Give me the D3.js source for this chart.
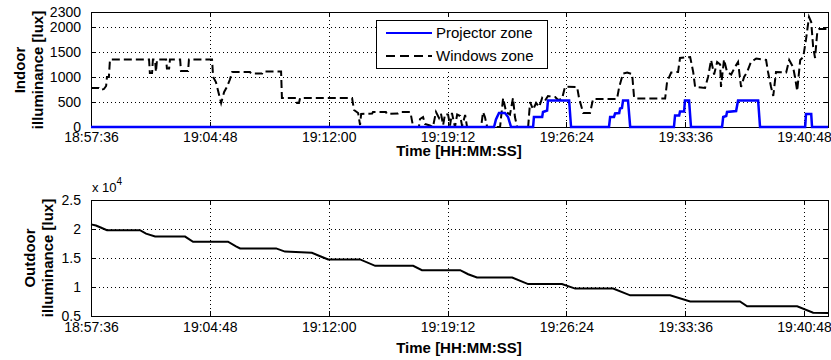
<!DOCTYPE html>
<html><head><meta charset="utf-8">
<script src="https://cdn.jsdelivr.net/npm/d3@7"></script>
<style>
body{margin:0;background:#fff;}
text{font-family:"Liberation Sans",Arial,Helvetica,sans-serif;fill:#000;}
</style></head>
<body><svg id="c" width="831" height="360"></svg>
<script>
// ---- data ----
const startTime = "18:57:36";
const endTime = "19:42:15";
const timeTicks = ["18:57:36","19:04:48","19:12:00","19:19:12","19:26:24","19:33:36","19:40:48"];
const indoorTicks = [0,500,1000,1500,2000,2300];
const outdoorTicks = [5000,10000,15000,20000,25000];
const seriesNames = ["Projector zone","Windows zone"];

// seconds elapsed since startTime
const projSec = [0,1465,1472,1483,1505,1516,1527,1607,1610,1640,1643,1658,1661,1738,1745,1883,1887,1901,1905,1920,1923,1930,1934,1952,1960,2119,2123,2138,2141,2156,2159,2174,2181,2294,2298,2309,2312,2345,2352,2425,2432,2596,2599,2618,2621,2679];
const projLux = [0,0,150,280,280,200,0,0,200,200,300,330,530,530,0,0,200,200,270,280,370,380,530,530,0,0,230,230,310,310,530,530,0,0,200,220,300,320,530,530,0,0,260,260,0,0];

const winSec = [0,29,36,47,55,58,65,69,211,214,222,225,233,236,240,273,276,284,287,324,327,353,356,440,444,454,473,484,494,505,513,578,582,622,625,691,694,745,749,756,760,949,956,971,978,982,1022,1025,1072,1076,1116,1123,1160,1163,1171,1192,1196,1207,1214,1232,1243,1254,1265,1272,1280,1287,1298,1305,1312,1323,1331,1342,1349,1360,1367,1418,1425,1432,1440,1487,1498,1509,1523,1534,1541,1549,1589,1596,1607,1618,1629,1640,1650,1661,1687,1698,1712,1723,1767,1774,1789,1814,1825,1912,1920,1934,1949,1967,1974,1981,2087,2094,2109,2134,2141,2178,2189,2196,2232,2243,2254,2265,2276,2287,2290,2301,2312,2327,2341,2352,2363,2374,2385,2399,2418,2454,2461,2472,2480,2490,2527,2538,2552,2559,2567,2578,2589,2599,2610,2618,2625,2632,2640,2647,2679];
const winLux = [780,780,740,760,820,1000,1000,1350,1350,1080,1080,1350,1350,1100,1350,1350,1170,1170,1350,1350,1120,1120,1350,1350,1000,900,480,700,800,950,1100,1100,1070,1070,1110,1110,580,580,480,480,580,580,340,280,40,260,270,300,300,260,270,300,300,240,0,0,160,200,60,30,0,300,180,270,40,260,250,30,280,0,250,220,20,240,0,0,300,200,0,0,580,300,250,580,200,0,0,500,350,480,400,580,520,620,600,540,560,806,800,580,280,280,560,560,800,1070,1090,1060,600,570,570,900,1090,1100,1380,1400,1100,800,780,1000,1340,1050,1300,1250,800,1350,1100,1050,1200,1300,800,1000,1100,1300,1370,1340,1100,800,620,1100,1090,1340,1200,1000,720,1340,1400,1750,2200,2100,1600,1380,1900,1960,1960];

const outSec = [0,18,33,58,178,200,233,342,371,498,527,542,673,705,803,833,862,978,1033,1171,1203,1342,1371,1403,1531,1589,1712,1760,1898,1960,2105,2178,2359,2385,2567,2625,2679];
const outLux = [20800,20600,20300,19800,19800,19200,18700,18700,17800,17800,17000,16650,16650,16100,15900,15300,14750,14750,13650,13650,12900,12900,12200,11630,11630,10500,10500,9720,9720,8560,8560,7520,7520,6660,6660,5570,5500];

// ---- drawing ----
const parse = d3.timeParse("%H:%M:%S");
const t0 = parse(startTime);
const toDate = s => new Date(t0.getTime() + s*1000);
const svg = d3.select("#c");
const L = 91, R = 828;
const x = d3.scaleTime().domain([t0, parse(endTime)]).range([L, R]);
const tickDates = timeTicks.map(parse);
const fmt = d3.timeFormat("%H:%M:%S");

function panel(top, bottom, yDomain, yTicks, yFmt, xPad) {
  const y = d3.scaleLinear().domain(yDomain).range([bottom, top]);
  const g = svg.append("g");
  // grid
  g.append("g").selectAll("line").data(tickDates.slice(1)).join("line")
    .attr("x1", d => Math.round(x(d))+0.5).attr("x2", d => Math.round(x(d))+0.5)
    .attr("y1", top).attr("y2", bottom)
    .attr("stroke", "#000").attr("stroke-dasharray", "1,3").attr("shape-rendering","crispEdges");
  g.append("g").selectAll("line").data(yTicks.filter(v => v > yDomain[0] && v < yDomain[1])).join("line")
    .attr("x1", L).attr("x2", R)
    .attr("y1", d => Math.round(y(d))+0.5).attr("y2", d => Math.round(y(d))+0.5)
    .attr("stroke", "#000").attr("stroke-dasharray", "1,3").attr("shape-rendering","crispEdges");
  // axes (MATLAB-like inward ticks, box)
  const ax = g.append("g").attr("class","axes");
  ax.append("g").attr("transform", `translate(0,${bottom})`)
    .call(d3.axisBottom(x).tickValues(tickDates).tickFormat(fmt).tickSizeInner(-5).tickSizeOuter(0).tickPadding(xPad));
  ax.append("g").attr("transform", `translate(0,${top})`)
    .call(d3.axisTop(x).tickValues(tickDates).tickFormat("").tickSizeInner(-5).tickSizeOuter(0));
  ax.append("g").attr("transform", `translate(${L},0)`)
    .call(d3.axisLeft(y).tickValues(yTicks).tickFormat(yFmt).tickSizeInner(-5).tickSizeOuter(0).tickPadding(10));
  ax.append("g").attr("transform", `translate(${R},0)`)
    .call(d3.axisRight(y).tickValues(yTicks).tickFormat("").tickSizeInner(-5).tickSizeOuter(0));
  ax.selectAll("path.domain").attr("stroke","#000").attr("shape-rendering","crispEdges");
  ax.selectAll(".tick line").attr("stroke","#000").attr("shape-rendering","crispEdges");
  ax.selectAll("text").style("font-size","14px").attr("fill","#000");
  return {y, g};
}

// ---- top panel ----
const P1 = panel(12, 127, [0, 2300], indoorTicks, d3.format("d"), 5);
const lineTop = d3.line().x(d => x(toDate(d[0]))).y(d => P1.y(d[1]));
svg.append("path").datum(winSec.map((s,i)=>[s, winLux[i]]))
  .attr("d", lineTop).attr("fill","none").attr("stroke","#000").attr("stroke-width",2)
  .attr("stroke-dasharray","8,4");
svg.append("path").datum(projSec.map((s,i)=>[s, projLux[i]]))
  .attr("d", lineTop).attr("fill","none").attr("stroke","#0000ff").attr("stroke-width",2.5);

// legend
const lg = svg.append("g");
lg.append("rect").attr("x",376.5).attr("y",20.5).attr("width",171).attr("height",48)
  .attr("fill","#fff").attr("stroke","#000").attr("shape-rendering","crispEdges");
const legendColors = ["#0000ff","#000"];
const legendDash = [null,"9,5"];
seriesNames.forEach((n,i) => {
  const yy = 33 + i*23;
  lg.append("line").attr("x1",386).attr("x2",432).attr("y1",yy).attr("y2",yy)
    .attr("stroke",legendColors[i]).attr("stroke-width",2).attr("stroke-dasharray",legendDash[i]);
  lg.append("text").attr("x",436).attr("y",yy+5).style("font-size","15px").text(n);
});

// axis titles top
svg.append("text").attr("x",459).attr("y",156).attr("text-anchor","middle")
  .style("font-size","15px").style("font-weight","bold").text("Time [HH:MM:SS]");
const yl1 = svg.append("text").attr("transform","translate(0,70) rotate(-90)")
  .attr("text-anchor","middle").style("font-size","15px").style("font-weight","bold");
yl1.append("tspan").attr("x",0).attr("y",25).text("Indoor");
yl1.append("tspan").attr("x",0).attr("y",43).text("illuminance [lux]");

// ---- bottom panel ----
const P2 = panel(200, 316, [5000, 25000], outdoorTicks, d => d3.format("~g")(d/10000), 6);
const lineBot = d3.line().x(d => x(toDate(d[0]))).y(d => P2.y(d[1]));
svg.append("path").datum(outSec.map((s,i)=>[s, outLux[i]]))
  .attr("d", lineBot).attr("fill","none").attr("stroke","#000").attr("stroke-width",2);

const ex = svg.append("text").attr("x",92).attr("y",192).style("font-size","13px");
ex.append("tspan").text("x 10");
ex.append("tspan").attr("dy",-7).style("font-size","10px").text("4");

svg.append("text").attr("x",459).attr("y",353).attr("text-anchor","middle")
  .style("font-size","15px").style("font-weight","bold").text("Time [HH:MM:SS]");
const yl2 = svg.append("text").attr("transform","translate(0,258) rotate(-90)")
  .attr("text-anchor","middle").style("font-size","15px").style("font-weight","bold");
yl2.append("tspan").attr("x",0).attr("y",35).text("Outdoor");
yl2.append("tspan").attr("x",0).attr("y",53).text("illuminance [lux]");
</script></body></html>
